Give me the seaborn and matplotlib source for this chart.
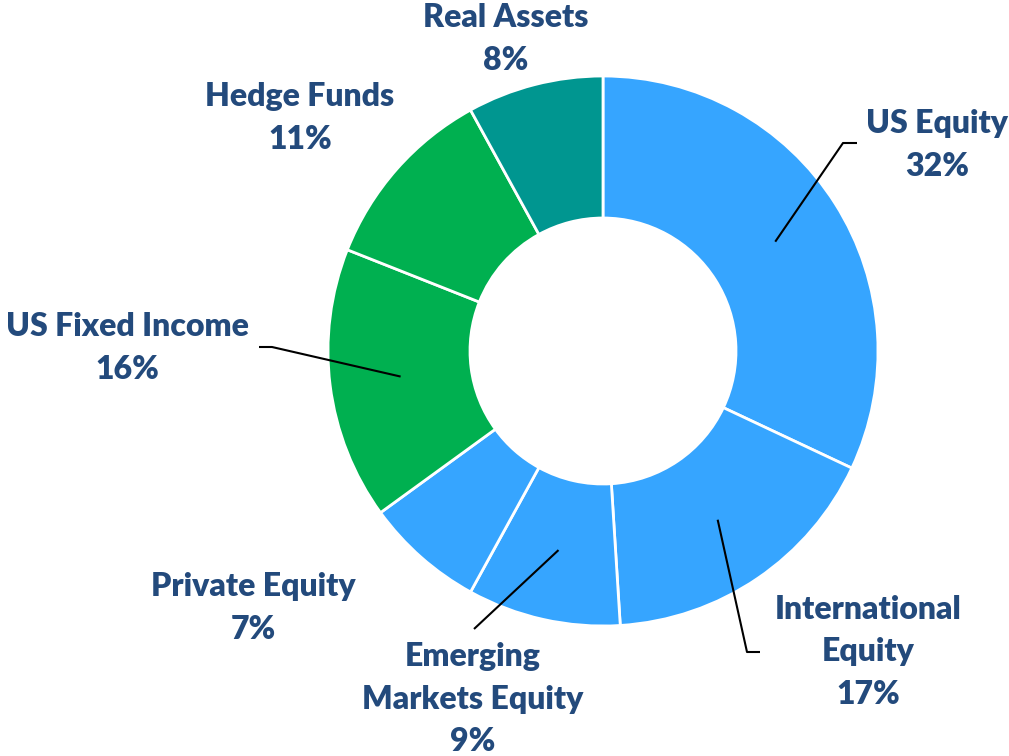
import numpy as np
import matplotlib as mpl
import matplotlib.pyplot as plt
import seaborn as sns

# allocation data (clockwise from 12 o'clock)
categories = ["US Equity", "International\nEquity", "Emerging\nMarkets Equity",
              "Private Equity", "US Fixed Income", "Hedge Funds", "Real Assets"]
shares = [32, 17, 9, 7, 16, 11, 8]
groups = ["equity", "equity", "equity", "equity", "income", "income", "real"]

sns.set_theme(style="white")
plt.rcParams['font.family'] = ['Lato', 'DejaVu Sans']

palette = {"equity": "#36A5FF", "income": "#00B050", "real": "#009690"}
colors = [palette[g] for g in groups]
text_color = "#234A7C"

W, H = 1009, 756
fig = plt.figure(figsize=(W / 100, H / 100), dpi=100)
ax = fig.add_axes([0, 0, 1, 1])

cx, cy = 603, H - 351
r_out, r_in = 275, 133
ax.pie(shares, colors=colors, startangle=90, counterclock=False,
       center=(cx, cy), radius=r_out, frame=True,
       wedgeprops=dict(width=r_out - r_in, edgecolor='white', linewidth=2))
ax.set_xlim(0, W)
ax.set_ylim(0, H)
ax.axis('off')

# label layout: text centre (px from top-left), optional elbow point
layout = {
    "US Equity": ((937, 145), (843, 143, 857)),
    "International\nEquity": ((868, 652), (747, 652, 760)),
    "Emerging\nMarkets Equity": ((473, 699), (474, 629, None)),
    "Private Equity": ((253, 608), None),
    "US Fixed Income": ((127, 348), (272, 347, 259)),
    "Hedge Funds": ((300, 118), None),
    "Real Assets": ((506, 39), None),
}

cum = np.cumsum([0] + shares)
r_mid = (r_out + r_in) / 2
for name, val, c0 in zip(categories, shares, cum[:-1]):
    ang = np.deg2rad(90 - (c0 + val / 2) / sum(shares) * 360)
    (tx, ty), elbow = layout[name]
    ax.text(tx, H - ty, f"{name}\n{val}%", ha='center', va='center',
            fontsize=23, fontweight='heavy', color=text_color, linespacing=1.55)
    if elbow is not None:
        ex, ey, hx = elbow
        sx, sy = cx + r_mid * np.cos(ang), cy + r_mid * np.sin(ang)
        xs = [sx, ex] + ([hx] if hx is not None else [])
        ys = [sy, H - ey] + ([H - ey] if hx is not None else [])
        ax.plot(xs, ys, color='black', lw=1.5, solid_capstyle='butt')

fig.savefig("out.png", dpi=100)
